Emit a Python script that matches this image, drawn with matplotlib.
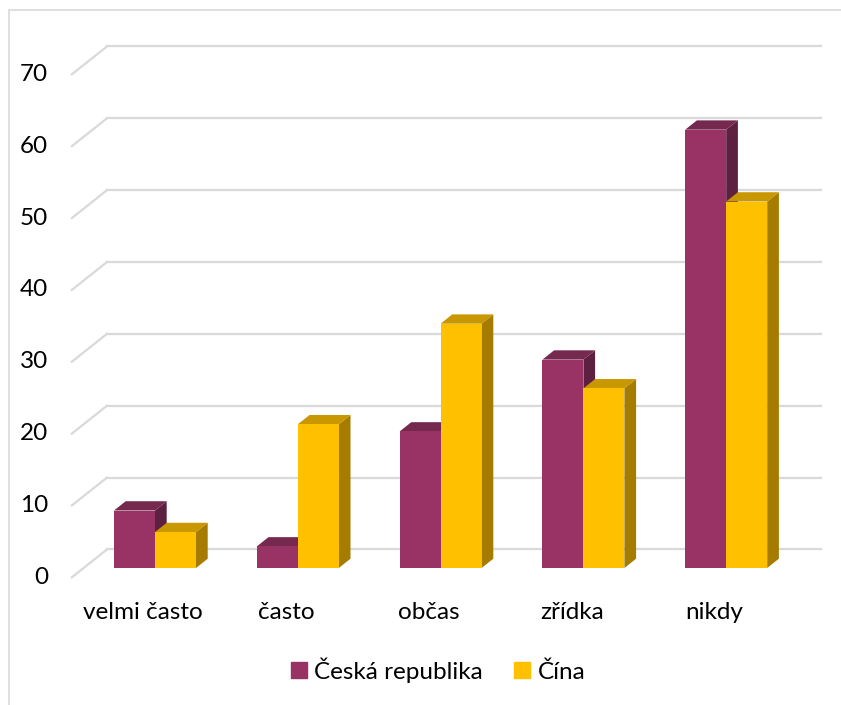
import matplotlib.pyplot as plt
from matplotlib.patches import Polygon, Rectangle

plt.rcParams['font.family'] = ['Lato', 'DejaVu Sans']

categories = ['velmi často', 'často', 'občas', 'zřídka', 'nikdy']
cesko = [8, 3, 19, 29, 61]
cina = [5, 20, 34, 25, 51]
series_names = ['Česká republika', 'Čína']
yticks = [0, 10, 20, 30, 40, 50, 60, 70]

# barvy: predni stena, horni stena, bocni stena
colors_cz = ('#993366', '#76294F', '#5E2041')
colors_cn = ('#FFC000', '#C99700', '#A57C00')

# hloubka jedne tretiny "3D" v jednotkach dat
DX = 11.7 / 142.8
DY = 9.3 / 7.186
W = 41 / 142.8
FS = 17.5


def draw_bar(ax, x0, v, cols):
    x1 = x0 + W
    front, top, side = cols
    ax.add_patch(Polygon([(x1, 0), (x1, v), (x1 + DX, v + DY), (x1 + DX, DY)],
                         closed=True, facecolor=side, edgecolor='none', zorder=3))
    ax.add_patch(Polygon([(x0, v), (x1, v), (x1 + DX, v + DY), (x0 + DX, v + DY)],
                         closed=True, facecolor=top, edgecolor='none', zorder=3))
    ax.bar(x0, v, width=W, align='edge', color=front, zorder=3)


fig = plt.figure(figsize=(8.41, 7.05), dpi=100)
fig.patches.append(Rectangle((9 / 841, -0.1), 1.2, (695 + 70.5) / 705,
                             transform=fig.transFigure, fill=False,
                             edgecolor='#D9D9D9', linewidth=1.2))
ax = fig.add_axes([83.6 / 841, (705 - 568) / 705, 714 / 841, 503 / 705])
ax.set_xlim(-0.5, 4.5)
ax.set_ylim(0, 70)
ax.axis('off')

xmin, xmax = -0.5, 4.5
for v in yticks:
    ax.plot([xmin - DX, xmin + 2 * DX], [v - DY, v + 2 * DY], color='#D9D9D9',
            lw=1.6, clip_on=False, zorder=1)
    ax.plot([xmin + 2 * DX, xmax + 2 * DX], [v + 2 * DY, v + 2 * DY], color='#D9D9D9',
            lw=1.6, clip_on=False, zorder=1)
    ax.annotate(str(v), (xmin - DX, v - DY), xytext=(-17, 0), textcoords='offset points',
                ha='right', va='center', fontsize=FS, color='black', annotation_clip=False)

for i, cat in enumerate(categories):
    draw_bar(ax, i - W, cesko[i], colors_cz)
    draw_bar(ax, i, cina[i], colors_cn)
    ax.annotate(cat, (i - DX, -DY), xytext=(0, -25), textcoords='offset points',
                ha='center', va='center', fontsize=FS, color='black', annotation_clip=False)

# legenda
handles = [Rectangle((0, 0), 1, 1, color=colors_cz[0]), Rectangle((0, 0), 1, 1, color=colors_cn[0])]
fig.legend(handles, series_names, loc='center', bbox_to_anchor=(0.521, 1 - 670 / 705),
           ncol=2, frameon=False, fontsize=FS, handlelength=0.65, handleheight=0.65,
           handletextpad=0.3, columnspacing=1.3)

fig.savefig('out.png', dpi=100)
